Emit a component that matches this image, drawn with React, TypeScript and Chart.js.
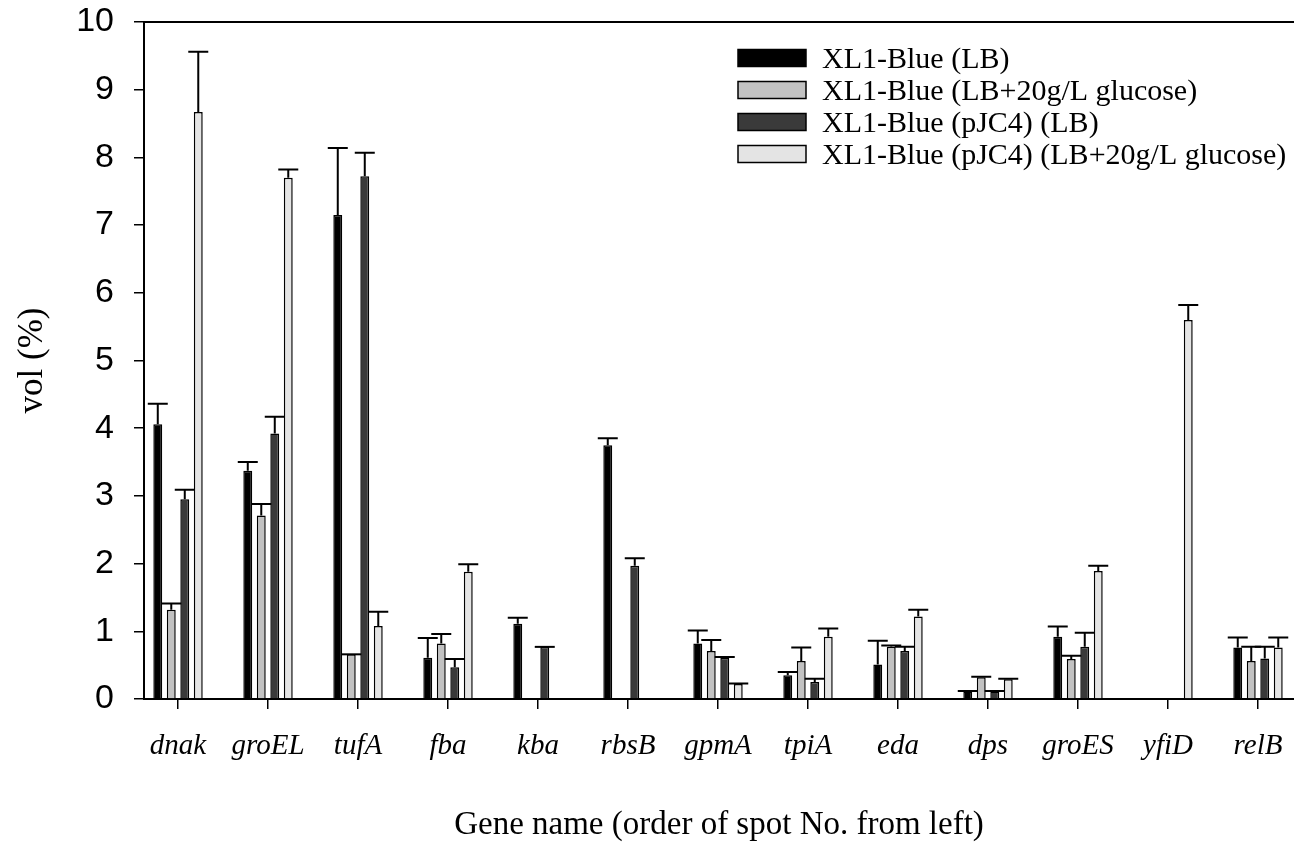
import React, { useEffect, useRef } from 'react';
import { Chart, registerables } from 'chart.js';

Chart.register(...registerables);

const genes = ['dnak', 'groEL', 'tufA', 'fba', 'kba', 'rbsB', 'gpmA', 'tpiA', 'eda', 'dps', 'groES', 'yfiD', 'relB'];
const seriesLabels = [
  'XL1-Blue (LB)',
  'XL1-Blue (LB+20g/L glucose)',
  'XL1-Blue (pJC4) (LB)',
  'XL1-Blue (pJC4) (LB+20g/L glucose)',
];
const lbValues = [4.06, 3.37, 7.15, 0.61, 1.11, 3.75, 0.82, 0.35, 0.51, 0.11, 0.92, null, 0.76];
const lbErrTop = [4.36, 3.5, 8.14, 0.9, 1.2, 3.85, 1.01, 0.4, 0.86, 0.12, 1.07, null, 0.91];
const lbGluValues = [1.32, 2.71, 0.66, 0.82, null, null, 0.71, 0.56, 0.77, 0.32, 0.59, null, 0.56];
const lbGluErrTop = [1.41, 2.88, 0.66, 0.96, null, null, 0.87, 0.76, 0.79, 0.33, 0.64, null, 0.77];
const pjcLbValues = [2.95, 3.92, 7.72, 0.47, 0.77, 1.97, 0.61, 0.25, 0.71, 0.11, 0.77, null, 0.6];
const pjcLbErrTop = [3.09, 4.17, 8.07, 0.59, 0.77, 2.08, 0.62, 0.3, 0.77, 0.12, 0.98, null, 0.77];
const pjcGluValues = [8.67, 7.7, 1.08, 1.88, null, null, 0.22, 0.92, 1.22, 0.29, 1.89, 5.6, 0.76];
const pjcGluErrTop = [9.56, 7.82, 1.29, 1.99, null, null, 0.23, 1.04, 1.32, 0.3, 1.97, 5.82, 0.91];
const yTickValues = [0, 1, 2, 3, 4, 5, 6, 7, 8, 9, 10];

const seriesValues = [lbValues, lbGluValues, pjcLbValues, pjcGluValues];
const seriesErrTops = [lbErrTop, lbGluErrTop, pjcLbErrTop, pjcGluErrTop];
const fills = ['#000000', '#c2c2c2', '#3a3a3a', '#e4e4e4'];

const SERIF = '"Liberation Serif", "Times New Roman", serif';
const SANS = '"Liberation Sans", Arial, sans-serif';

const errorBarPlugin = {
  id: 'errorBars',
  afterDatasetsDraw(chart: any) {
    const ctx = chart.ctx;
    const yScale = chart.scales.y;
    ctx.save();
    ctx.strokeStyle = '#000';
    ctx.lineWidth = 2;
    chart.data.datasets.forEach((ds: any, di: number) => {
      const meta = chart.getDatasetMeta(di);
      const errs = seriesErrTops[di];
      meta.data.forEach((el: any, i: number) => {
        const v = seriesValues[di][i];
        const e = errs[i];
        if (v == null || e == null) return;
        const x = el.x;
        const yTop = yScale.getPixelForValue(e);
        const yBar = yScale.getPixelForValue(v);
        ctx.beginPath();
        ctx.moveTo(x, yBar);
        ctx.lineTo(x, yTop);
        ctx.moveTo(x - 10, yTop);
        ctx.lineTo(x + 10, yTop);
        ctx.stroke();
      });
    });
    ctx.restore();
  },
};

const framePlugin = {
  id: 'frameAndLegend',
  afterDraw(chart: any) {
    const ctx = chart.ctx;
    const { left, right, top } = chart.chartArea;
    ctx.save();
    ctx.strokeStyle = '#000';
    ctx.lineWidth = 2;
    ctx.beginPath();
    ctx.moveTo(left, top);
    ctx.lineTo(right, top);
    ctx.stroke();

    // legend
    const boxX = 738;
    const boxW = 68;
    const boxH = 17;
    const rowY0 = 58;
    const rowStep = 32;
    ctx.font = '30px ' + SERIF;
    ctx.textBaseline = 'middle';
    ctx.textAlign = 'left';
    chart.data.datasets.forEach((ds: any, i: number) => {
      const cy = rowY0 + i * rowStep;
      ctx.fillStyle = fills[i];
      ctx.fillRect(boxX, cy - boxH / 2, boxW, boxH);
      ctx.lineWidth = 1.5;
      ctx.strokeRect(boxX, cy - boxH / 2, boxW, boxH);
      ctx.fillStyle = '#000';
      ctx.fillText(ds.label, 822, cy + 2);
    });
    ctx.restore();
  },
};

export default function App() {
  const canvasRef = useRef<HTMLCanvasElement | null>(null);

  useEffect(() => {
    document.body.style.margin = '0';
    const canvas = canvasRef.current;
    if (!canvas) return;
    const datasets = seriesValues.map((vals, si) => ({
      label: seriesLabels[si],
      data: vals.map((v, i) => ({ x: i, y: v })),
      backgroundColor: fills[si],
      borderColor: '#000',
      borderWidth: 1.5,
      categoryPercentage: 0.6,
      barPercentage: 0.66,
    }));
    const chart = new Chart(canvas, {
      type: 'bar',
      data: { datasets },
      options: {
        responsive: false,
        animation: false,
        layout: { padding: { top: 22, right: 0, left: 0, bottom: 0 } },
        plugins: { legend: { display: false }, tooltip: { enabled: false } },
        scales: {
          x: {
            type: 'linear',
            offset: false,
            min: -0.378,
            max: 12.4,
            afterBuildTicks: (scale: any) => {
              scale.ticks = genes.map((_, i) => ({ value: i }));
            },
            afterFit: (scale: any) => {
              scale.height = 148;
              scale.paddingLeft = 0;
              scale.paddingRight = 0;
            },
            ticks: {
              autoSkip: false,
              maxRotation: 0,
              padding: 20,
              color: '#000',
              font: { family: SERIF, size: 29, style: 'italic' },
              callback: (v: any) => genes[v] ?? '',
            },
            grid: { offset: false, drawOnChartArea: false, drawTicks: true, tickLength: 10, color: '#000', lineWidth: 1.5 },
            border: { color: '#000', width: 2 },
            title: {
              display: true,
              text: 'Gene name (order of spot No. from left)',
              color: '#000',
              font: { family: SERIF, size: 33 },
              padding: { top: 0, bottom: 2 },
            },
          },
          y: {
            min: 0,
            max: 10,
            afterBuildTicks: (scale: any) => {
              scale.ticks = yTickValues.map((v) => ({ value: v }));
            },
            afterFit: (scale: any) => {
              scale.width = 144;
              scale.paddingTop = 0;
              scale.paddingBottom = 0;
            },
            ticks: {
              padding: 20,
              color: '#000',
              font: { family: SANS, size: 34 },
            },
            grid: { drawOnChartArea: false, drawTicks: true, tickLength: 10, color: '#000', lineWidth: 1.5 },
            border: { color: '#000', width: 2 },
            title: {
              display: true,
              text: 'vol (%)',
              color: '#000',
              font: { family: SERIF, size: 35 },
              padding: { top: 12, bottom: 0 },
            },
          },
        },
      },
      plugins: [errorBarPlugin, framePlugin],
    });
    return () => chart.destroy();
  }, []);

  return (
    <div style={{ width: 1294, height: 847, background: '#fff' }}>
      <canvas ref={canvasRef} width={1294} height={847} style={{ display: 'block' }} />
    </div>
  );
}
